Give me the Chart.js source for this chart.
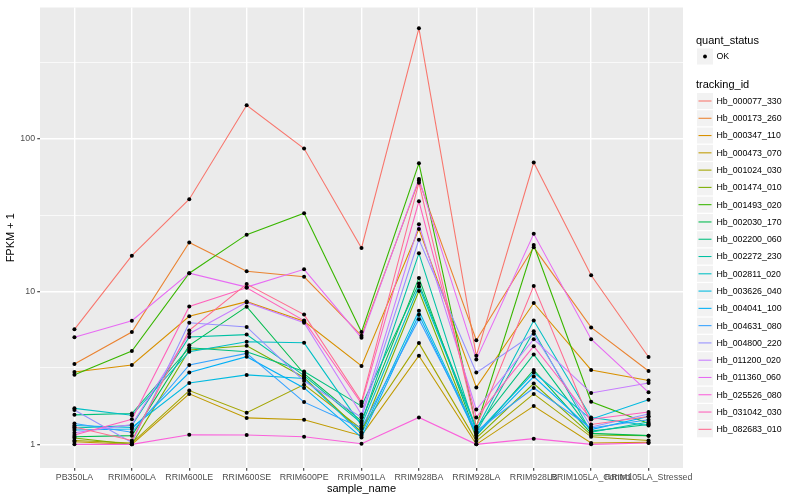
<!DOCTYPE html>
<html><head><meta charset="utf-8">
<script src="https://cdn.jsdelivr.net/npm/chart.js@4"></script>
<style>html,body{margin:0;padding:0;background:#fff}</style>
</head><body>
<canvas id="c" width="800" height="500"></canvas>
<script>
const sampleNames = ["PB350LA","RRIM600LA","RRIM600LE","RRIM600SE","RRIM600PE","RRIM901LA","RRIM928BA","RRIM928LA","RRIM928LB","RRIM105LA_Control","RRIM105LA_Stressed"];
const trackingIds = ["Hb_000077_330","Hb_000173_260","Hb_000347_110","Hb_000473_070","Hb_001024_030","Hb_001474_010","Hb_001493_020","Hb_002030_170","Hb_002200_060","Hb_002272_230","Hb_002811_020","Hb_003626_040","Hb_004041_100","Hb_004631_080","Hb_004800_220","Hb_011200_020","Hb_011360_060","Hb_025526_080","Hb_031042_030","Hb_082683_010"];
const seriesColors = ["#F8766D","#EA8331","#D89000","#C09B00","#A3A500","#7CAE00","#39B600","#00BB4E","#00BF7D","#00C1A3","#00BFC4","#00BAE0","#00B0F6","#35A2FF","#9590FF","#C77CFF","#E76BF3","#FA62DB","#FF62BC","#FF6C91"];
const yMajorTicks = [1, 10, 100];
const yMinorTicks = [3.1623, 31.623, 316.23];

const Hb_000077_330 = [5.66, 17.2, 40.3, 166, 86.5, 19.3, 530, 3.8, 70, 12.8, 3.73];
const Hb_000173_260 = [3.36, 5.44, 21, 13.6, 12.5, 5.15, 53.4, 4.8, 19.5, 5.83, 3.02];
const Hb_000347_110 = [2.98, 3.31, 6.9, 8.6, 6.4, 3.26, 25.7, 2.36, 8.42, 3.07, 2.62];
const Hb_000473_070 = [1.04, 1.0, 2.14, 1.49, 1.45, 1.14, 3.8, 1.0, 1.78, 1.02, 1.03];
const Hb_001024_030 = [1.06, 1.02, 2.25, 1.61, 2.46, 1.26, 4.6, 1.05, 2.14, 1.12, 1.06];
const Hb_001474_010 = [1.10, 1.0, 4.15, 4.42, 2.74, 1.2, 10.1, 1.1, 2.5, 1.15, 1.14];
const Hb_001493_020 = [2.86, 4.08, 13.2, 23.6, 32.6, 5.44, 69.2, 1.3, 20.2, 1.9, 1.37];
const Hb_002030_170 = [1.12, 1.14, 4.45, 7.97, 2.9, 1.42, 12.3, 1.14, 3.07, 1.18, 1.14];
const Hb_002200_060 = [1.56, 1.59, 4.29, 4.04, 3.0, 1.78, 11.3, 1.28, 3.88, 1.22, 1.35];
const Hb_002272_230 = [1.28, 1.33, 5.05, 5.23, 2.82, 1.38, 17.8, 1.2, 5.5, 1.2, 1.4];
const Hb_002811_020 = [1.72, 1.55, 4.04, 4.69, 4.62, 1.33, 10.8, 1.25, 6.46, 1.5, 1.33];
const Hb_003626_040 = [1.33, 1.29, 2.52, 2.85, 2.7, 1.17, 7.5, 1.18, 2.95, 1.46, 1.96];
const Hb_004041_100 = [1.24, 1.26, 2.95, 3.75, 2.34, 1.11, 7.05, 1.15, 2.78, 1.25, 1.52];
const Hb_004631_080 = [1.37, 1.20, 3.31, 3.94, 1.89, 1.28, 6.6, 1.22, 2.34, 1.28, 1.45];
const Hb_004800_220 = [1.68, 1.03, 6.25, 5.87, 2.6, 1.5, 21.9, 2.95, 5.3, 1.3, 1.58];
const Hb_011200_020 = [1.19, 1.35, 5.3, 8.5, 6.25, 1.57, 27.6, 1.69, 4.88, 2.17, 2.52];
const Hb_011360_060 = [5.03, 6.45, 13.2, 10.7, 14.0, 4.98, 54.7, 3.6, 23.9, 4.88, 2.19];
const Hb_025526_080 = [1.0, 1.0, 1.155, 1.15, 1.12, 1.01, 1.5, 1.0, 1.09, 1.0, 1.02];
const Hb_031042_030 = [1.15, 1.46, 8.0, 10.6, 6.46, 1.85, 39.0, 1.5, 4.39, 1.46, 1.63];
const Hb_082683_010 = [1.30, 1.06, 5.57, 11.2, 7.07, 1.9, 51.7, 1.3, 10.9, 1.35, 1.52];

const seriesValues = [Hb_000077_330,Hb_000173_260,Hb_000347_110,Hb_000473_070,Hb_001024_030,Hb_001474_010,Hb_001493_020,Hb_002030_170,Hb_002200_060,Hb_002272_230,Hb_002811_020,Hb_003626_040,Hb_004041_100,Hb_004631_080,Hb_004800_220,Hb_011200_020,Hb_011360_060,Hb_025526_080,Hb_031042_030,Hb_082683_010];

const FONT = '"Liberation Sans", Arial, Helvetica, sans-serif';

// y range as ggplot: data range in log10 expanded 5%
const allVals = seriesValues.flat();
const lmin = Math.log10(Math.min(...allVals)), lmax = Math.log10(Math.max(...allVals));
const lexp = (lmax - lmin) * 0.05;

const lineSets = seriesValues.map((vals, k) => ({
  type: 'line',
  label: trackingIds[k],
  data: vals.map((v, i) => ({x: i, y: v})),
  borderColor: seriesColors[k],
  borderWidth: 1.07,
  pointRadius: 0,
  tension: 0,
  fill: false,
  order: 20 - k
}));
const pointSet = {
  type: 'line',
  label: 'OK',
  data: seriesValues.flatMap(vals => vals.map((v, i) => ({x: i, y: v}))),
  showLine: false,
  pointRadius: 2,
  pointBackgroundColor: '#000',
  pointBorderWidth: 0,
  order: 0
};

const bgPlugin = {
  id: 'bg',
  beforeDraw(chart) {
    const {ctx, chartArea: a} = chart;
    ctx.save();
    ctx.fillStyle = '#fff';
    ctx.fillRect(0, 0, chart.width, chart.height);
    ctx.fillStyle = '#EBEBEB';
    ctx.fillRect(a.left, a.top, a.right - a.left, a.bottom - a.top);
    ctx.restore();
  }
};

const legendPlugin = {
  id: 'ggLegend',
  afterDraw(chart) {
    const ctx = chart.ctx;
    ctx.save();
    const x0 = 697;
    ctx.textBaseline = 'middle';
    ctx.textAlign = 'left';
    ctx.fillStyle = '#000';
    ctx.font = '11px ' + FONT;
    ctx.fillText('quant_status', x0 - 1, 40.5);
    ctx.fillStyle = '#F2F2F2';
    ctx.fillRect(x0, 48.5, 16, 16);
    ctx.fillStyle = '#000';
    ctx.beginPath(); ctx.arc(x0 + 8, 56.5, 1.9, 0, Math.PI * 2); ctx.fill();
    ctx.font = '8.8px ' + FONT;
    ctx.fillText('OK', x0 + 19.5, 57);
    ctx.font = '11px ' + FONT;
    ctx.fillText('tracking_id', x0 - 1, 84.5);
    ctx.font = '8.8px ' + FONT;
    trackingIds.forEach((id, k) => {
      const cy = 101 + k * 17.28;
      ctx.fillStyle = '#F2F2F2';
      ctx.fillRect(x0, cy - 8, 16, 16);
      ctx.strokeStyle = seriesColors[k];
      ctx.lineWidth = 1.07;
      ctx.beginPath(); ctx.moveTo(x0 + 1.5, cy); ctx.lineTo(x0 + 14.5, cy); ctx.stroke();
      ctx.fillStyle = '#000';
      ctx.fillText(id, x0 + 19.5, cy + 0.5);
    });
    ctx.restore();
  }
};

new Chart(document.getElementById('c'), {
  type: 'line',
  data: { datasets: [pointSet, ...lineSets] },
  options: {
    responsive: false,
    animation: false,
    events: [],
    layout: { padding: { top: 5, right: 117, left: 0, bottom: 0 } },
    plugins: { legend: { display: false }, tooltip: { enabled: false } },
    scales: {
      x: {
        type: 'linear',
        min: -0.6, max: 10.6,
        afterBuildTicks(scale) { scale.ticks = sampleNames.map((_, i) => ({value: i})); },
        afterFit(scale) { scale.height = 32; },
        border: { display: false },
        grid: { color: '#fff', lineWidth: 1.42, tickColor: '#333333', tickLength: 2.75, tickWidth: 1.07 },
        ticks: {
          autoSkip: false, maxRotation: 0, minRotation: 0, padding: 1.5,
          color: '#4D4D4D', font: { family: FONT, size: 8.8 },
          callback: (v) => sampleNames[v]
        },
        title: { display: true, text: 'sample_name', color: '#000', font: { family: FONT, size: 11 }, padding: { top: 0, bottom: 4 } }
      },
      y: {
        type: 'logarithmic',
        min: Math.pow(10, lmin - lexp), max: Math.pow(10, lmax + lexp),
        afterBuildTicks(scale) {
          scale.ticks = [...yMajorTicks, ...yMinorTicks].sort((a, b) => a - b).map(v => ({value: v}));
        },
        afterFit(scale) { scale.width = 40; },
        border: { display: false },
        grid: {
          color: '#fff',
          lineWidth: (c) => yMajorTicks.includes(c.tick && c.tick.value) ? 1.42 : 0.71,
          tickColor: (c) => yMajorTicks.includes(c.tick && c.tick.value) ? '#333333' : 'rgba(0,0,0,0)',
          tickLength: 2.75, tickWidth: 1.07
        },
        ticks: {
          autoSkip: false, padding: 2.2,
          color: '#4D4D4D', font: { family: FONT, size: 8.8 },
          callback: (v) => yMajorTicks.includes(v) ? String(v) : ''
        },
        title: { display: true, text: 'FPKM + 1', color: '#000', font: { family: FONT, size: 11 }, padding: { top: 4.5, bottom: 0 } }
      }
    }
  },
  plugins: [bgPlugin, legendPlugin]
});
</script>
</body></html>
